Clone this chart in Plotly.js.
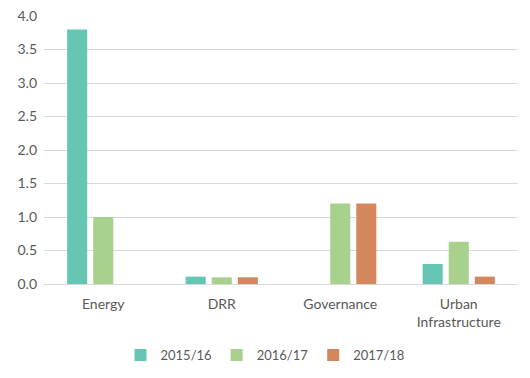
<!DOCTYPE html>
<html><head><meta charset="utf-8">
<script src="https://cdn.plot.ly/plotly-3.0.1.min.js"></script>
<style>html,body{margin:0;padding:0;background:#fff}#c{width:530px;height:378px}</style>
</head><body><div id="c"></div>
<script>
var categories = ["Energy", "DRR", "Governance", "Urban<br>Infrastructure"];
var seriesNames = ["2015/16", "2016/17", "2017/18"];
var v2015 = [3.8, 0.11, null, 0.3];
var v2016 = [1.0, 0.1, 1.2, 0.63];
var v2017 = [null, 0.1, 1.2, 0.11];
var colors = ["#66c6b4", "#a9d18e", "#d4875c"];
var vals = [v2015, v2016, v2017];
var data = vals.map(function(v, i){
  return {type:"bar", x:categories, y:v, name:seriesNames[i], marker:{color:colors[i]}, hoverinfo:"none"};
});
var layout = {
  width:530, height:378,
  margin:{l:44, r:12, t:16, b:94, autoexpand:false},
  font:{family:"Lato, 'Open Sans', sans-serif", size:13, color:"#595959"},
  barmode:"group", bargap:0.34, bargroupgap:0.23,
  paper_bgcolor:"#fff", plot_bgcolor:"#fff",
  showlegend:true,
  legend:{orientation:"h", x:0.5, xanchor:"center", xref:"container", y:0.061, yanchor:"middle", yref:"container", font:{size:13, color:"#595959"}, traceorder:"normal", itemwidth:30, tracegroupgap:0},
  xaxis:{showgrid:false, showline:true, linecolor:"#d9d9d9", linewidth:1, ticks:"", tickfont:{size:14, color:"#595959"}, ticklabelstandoff:7},
  yaxis:{range:[0,4], dtick:0.5, tickformat:".1f", showgrid:true, gridcolor:"#d9d9d9", gridwidth:1, zeroline:false, showline:false, ticks:"", tickfont:{size:14, color:"#595959"}, ticklabelstandoff:6}
};
Plotly.newPlot("c", data, layout, {staticPlot:true});
</script></body></html>
